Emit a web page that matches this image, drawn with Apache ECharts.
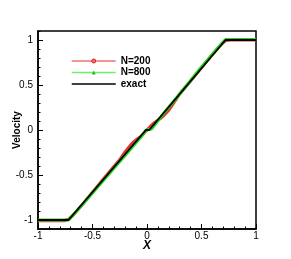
<!DOCTYPE html>
<html><head><meta charset="utf-8">
<script src="https://cdn.jsdelivr.net/npm/echarts@6/dist/echarts.min.js"></script>
<style>html,body{margin:0;padding:0;background:#fff}#c{width:291px;height:259px}</style>
</head><body><div id="c"></div>
<script>
const seriesNames = ['N=200', 'N=800', 'exact'];
const xN200 = [-1, -0.76, -0.72, -0.68, -0.6, -0.5, -0.4, -0.3, -0.25, -0.2, -0.15, -0.12, -0.09, -0.06, -0.03, 0, 0.03, 0.06, 0.09, 0.12, 0.15, 0.2, 0.25, 0.3, 0.4, 0.5, 0.6, 0.68, 0.72, 0.76, 1];
const uN200 = [-1.008, -1.008, -0.99, -0.95, -0.84, -0.69, -0.545, -0.40, -0.33, -0.24, -0.165, -0.13, -0.10, -0.075, -0.04, 0, 0.04, 0.075, 0.10, 0.125, 0.155, 0.22, 0.31, 0.40, 0.545, 0.69, 0.84, 0.95, 0.99, 1.0, 1.0];
const xN800 = [-1, -0.72, -0.70, -0.5, -0.3, -0.15, -0.05, -0.01, 0.04, 0.08, 0.15, 0.3, 0.5, 0.70, 0.72, 1];
const uN800 = [-1, -1, -0.975, -0.70, -0.42, -0.21, -0.07, 0, 0.01, 0.07, 0.18, 0.40, 0.70, 0.98, 1.005, 1.005];
const xExact = [-1, -0.72, -0.01, 0.02, 0.72, 1];
const uExact = [-1, -1, 0, 0, 1, 1];
const yTicks = [-1, -0.5, 0, 0.5, 1];
const yMinorTicks = [-1.1,-1,-0.9,-0.8,-0.7,-0.6,-0.5,-0.4,-0.3,-0.2,-0.1,0,0.1,0.2,0.3,0.4,0.5,0.6,0.7,0.8,0.9,1,1.1];

const pair = (xs, ys) => xs.map((x, i) => [x, ys[i]]);
const fontFam = '"Liberation Sans", Arial, sans-serif';
const chart = echarts.init(document.getElementById('c'), null, {renderer: 'canvas'});
chart.setOption({
  animation: false,
  backgroundColor: '#fff',
  grid: {left: 38, right: 35, top: 31, bottom: 30, show: true, borderColor: '#000', borderWidth: 1.5,
         containLabel: false, outerBoundsMode: 'none'},
  legend: {
    left: 71, top: 56, padding: 0, orient: 'vertical', itemWidth: 44, itemHeight: 5, itemGap: 1.5,
    data: [
      {name: seriesNames[0], lineStyle: {width: 1.3, color: '#f07070'}, itemStyle: {color: '#f07070', borderColor: '#e02020', borderWidth: 1}},
      {name: seriesNames[1], lineStyle: {width: 1.3, color: '#70ee70'}, itemStyle: {color: '#20c020'}},
      {name: seriesNames[2], lineStyle: {width: 1.5}, itemStyle: {opacity: 0}}
    ],
    textStyle: {fontFamily: fontFam, fontWeight: 'bold', fontSize: 10, color: '#000'}
  },
  xAxis: {
    type: 'value', min: -1, max: 1, interval: 0.5,
    name: 'X', nameLocation: 'middle', nameGap: 11, nameMoveOverlap: false,
    nameTextStyle: {fontFamily: fontFam, fontWeight: 'bold', fontStyle: 'italic', fontSize: 12, color: '#000'},
    axisLine: {show: true, onZero: false, lineStyle: {color: '#000', width: 1.5}},
    axisTick: {show: true, inside: true, length: 5, lineStyle: {color: '#000'}},
    minorTick: {show: true, splitNumber: 5, length: 2.5, lineStyle: {color: '#000'}},
    axisLabel: {fontFamily: fontFam, fontSize: 10, color: '#000', margin: 2},
    splitLine: {show: false}
  },
  yAxis: [{
    type: 'value', min: -1.1, max: 1.1,
    name: 'Velocity', nameLocation: 'middle', nameGap: 16, nameRotate: 90, nameMoveOverlap: false,
    nameTextStyle: {fontFamily: fontFam, fontWeight: 'bold', fontSize: 10, color: '#000'},
    axisLine: {show: true, onZero: false, lineStyle: {color: '#000', width: 1.5}},
    axisTick: {show: true, inside: true, length: 5, lineStyle: {color: '#000'}, customValues: yTicks},
    axisLabel: {fontFamily: fontFam, fontSize: 10, color: '#000', margin: 5, customValues: yTicks},
    splitLine: {show: false}
  }, {
    type: 'value', min: -1.1, max: 1.1, position: 'left',
    axisLine: {show: false, onZero: false},
    axisTick: {show: true, inside: true, length: 2.5, lineStyle: {color: '#000'}, customValues: yMinorTicks},
    axisLabel: {show: false},
    splitLine: {show: false}
  }],
  series: [{
    name: seriesNames[0], type: 'line', data: pair(xN200, uN200),
    symbol: 'circle', symbolSize: 4, showSymbol: false,
    itemStyle: {color: '#e83030'}, lineStyle: {color: '#e83030', width: 3}, z: 2
  }, {
    name: seriesNames[1], type: 'line', data: pair(xN800, uN800),
    symbol: 'triangle', symbolSize: 4, showSymbol: false,
    itemStyle: {color: '#18d818'}, lineStyle: {color: '#18d818', width: 3}, z: 3
  }, {
    name: seriesNames[2], type: 'line', data: pair(xExact, uExact),
    symbol: 'none', itemStyle: {color: '#000'}, lineStyle: {color: '#000', width: 1.8}, z: 4
  }]
});
</script></body></html>
